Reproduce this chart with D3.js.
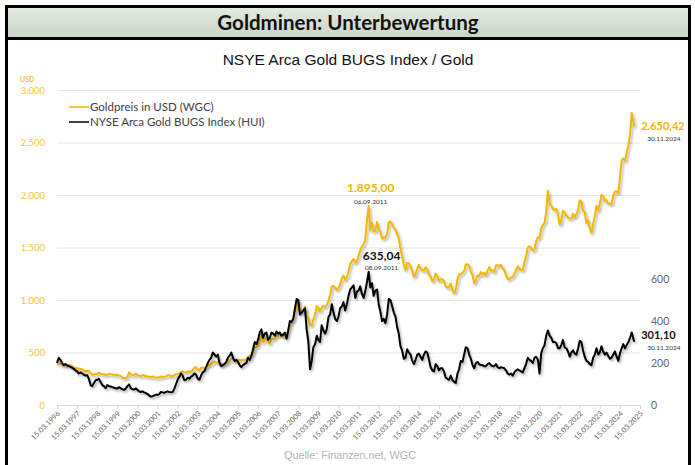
<!DOCTYPE html>
<html>
<head>
<meta charset="utf-8">
<script src="https://cdn.jsdelivr.net/npm/d3@7"></script>
<style>
  body { margin: 0; background: #fff; }
  svg { display: block; }
</style>
</head>
<body>
<div id="chart"></div>
<script>
// monthly values, first point 15.03.1996, last point 30.11.2024
const startDate = new Date(1996, 2, 15)
const endDate = new Date(2025, 2, 15)

const gold = [
  396, 393, 392, 385, 383, 387, 383, 381, 378, 369,
  355, 346, 352, 344, 344, 341, 324, 324, 323, 325, 306, 289,
  289, 297, 296, 308, 299, 292, 293, 284, 289, 296, 294, 291,
  287, 287, 286, 282, 277, 261, 256, 257, 265, 311, 293, 283,
  284, 300, 286, 280, 275, 285, 282, 274, 273, 270, 266, 272,
  265, 262, 263, 261, 272, 270, 268, 273, 283, 283, 276, 276,
  282, 295, 294, 302, 314, 321, 313, 310, 319, 317, 319, 333,
  357, 359, 340, 328, 355, 356, 351, 360, 379, 379, 389, 407,
  414, 405, 406, 403, 383, 392, 398, 400, 406, 420, 439, 442,
  424, 423, 434, 429, 422, 431, 424, 438, 456, 470, 476, 510,
  549, 555, 557, 610, 676, 596, 633, 632, 598, 586, 628, 629,
  631, 665, 655, 679, 667, 655, 665, 665, 712, 754, 806, 803,
  889, 922, 990, 909, 888, 890, 939, 839, 829, 760, 760, 816,
  858, 943, 924, 890, 928, 946, 934, 949, 996, 1043, 1127, 1134,
  1118, 1095, 1113, 1148, 1205, 1232, 1193, 1215, 1271, 1342, 1370, 1391,
  1356, 1372, 1424, 1473, 1510, 1529, 1572, 1756, 1895, 1666, 1739, 1652,
  1656, 1742, 1673, 1650, 1585, 1596, 1594, 1630, 1744, 1747, 1721, 1688,
  1670, 1627, 1593, 1487, 1414, 1343, 1286, 1352, 1349, 1316, 1275, 1222,
  1244, 1300, 1336, 1299, 1287, 1279, 1311, 1296, 1239, 1222, 1176, 1200,
  1251, 1227, 1179, 1198, 1199, 1181, 1129, 1118, 1125, 1157, 1087, 1068,
  1097, 1200, 1245, 1242, 1260, 1276, 1337, 1341, 1326, 1267, 1238, 1157,
  1192, 1234, 1231, 1266, 1246, 1260, 1236, 1283, 1315, 1280, 1283, 1265,
  1331, 1331, 1325, 1335, 1303, 1282, 1238, 1201, 1198, 1215, 1221, 1250,
  1291, 1320, 1300, 1286, 1284, 1359, 1413, 1500, 1511, 1495, 1471, 1479,
  1560, 1597, 1592, 1683, 1715, 1732, 1846, 2040, 1921, 1900, 1866, 1858,
  1867, 1808, 1718, 1760, 1850, 1834, 1807, 1785, 1776, 1777, 1821, 1790,
  1817, 1856, 1948, 1937, 1849, 1837, 1733, 1765, 1681, 1640, 1726, 1798,
  1898, 1854, 1912, 1999, 1992, 1942, 1951, 1918, 1916, 1915, 1993, 2034,
  2033, 2023, 2158, 2330, 2350, 2326, 2398, 2470, 2571, 2780, 2650
]

const hui = [
  200, 225, 215, 200, 190, 195, 188, 185, 182, 178,
  172, 165, 160, 150, 155, 150, 145, 140, 142, 125, 95, 90,
  105, 118, 120, 125, 110, 95, 90, 80, 95, 90, 88, 85,
  82, 80, 78, 85, 80, 75, 72, 78, 90, 98, 80, 75,
  74, 80, 72, 65, 62, 65, 60, 57, 52, 45, 40, 42,
  45, 50, 48, 52, 62, 60, 58, 62, 65, 62, 60, 62,
  78, 100, 120, 135, 150, 140, 118, 120, 130, 125, 135, 140,
  150, 145, 125, 120, 140, 155, 160, 180, 200, 215, 225, 250,
  240, 230, 240, 200, 185, 190, 195, 205, 225, 235, 250, 225,
  210, 215, 205, 190, 180, 190, 195, 200, 225, 215, 235, 265,
  300, 290, 310, 345, 360, 320, 340, 345, 310, 320, 345, 340,
  330, 350, 340, 345, 330, 335, 345, 315, 355, 400, 395, 410,
  460, 505, 500, 430, 440, 450, 460, 360, 300, 170, 210, 275,
  290, 330, 310, 300, 380, 355, 340, 360, 420, 430, 480, 440,
  410, 400, 420, 460, 470, 490, 450, 480, 520, 550, 560, 570,
  510, 540, 545, 565, 530, 510, 540, 585, 635, 560, 580, 520,
  545, 550, 480, 445, 400, 410, 390, 430, 505, 500, 470, 440,
  420, 370, 340, 280, 260, 220, 225, 265, 250, 240, 210, 195,
  215, 240, 245, 230, 215, 240, 255, 250, 215, 180, 165, 160,
  195, 185, 165, 175, 175, 160, 130, 125, 120, 140, 120, 110,
  105, 150, 170, 210, 205, 240, 275, 270, 240, 220, 190, 175,
  200, 205, 195, 190, 190, 185, 185, 195, 200, 190, 185, 185,
  195, 180, 175, 180, 178, 175, 165, 150, 145, 150, 140, 155,
  165, 170, 165, 160, 155, 175, 195, 225, 215, 210, 200, 225,
  230, 215, 150, 245, 270, 285, 330, 355, 330, 320, 300, 300,
  295, 270, 270, 285, 310, 275, 270, 255, 230, 250, 260, 245,
  240, 270, 305, 300, 260, 230, 210, 205, 195, 190, 225, 240,
  270, 240, 250, 280, 255, 240, 250, 235, 220, 225, 240, 255,
  230, 210, 245, 270, 290, 270, 285, 300, 320, 345, 301
]

const leftTicks = [0, 500, 1000, 1500, 2000, 2500, 3000]
const rightTicks = [0, 200, 400, 600]
const legendLabels = ["Goldpreis in USD (WGC)", "NYSE Arca Gold BUGS Index (HUI)"]
const annotations = [
  {series: "gold", value: "1.895,00", date: "06.09.2011", at: 186},
  {series: "hui", value: "635,04", date: "08.09.2011", at: 186},
  {series: "gold", value: "2.650,42", date: "30.11.2024", at: 344},
  {series: "hui", value: "301,10", date: "30.11.2024", at: 344}
]

const goldColor = "#f2b705"
const W = 695, H = 465

const de = d3.formatLocale({decimal: ",", thousands: ".", grouping: [3], currency: ["", "€"]})
const fmt = de.format(",")

const svg = d3.select("#chart").append("svg")
  .attr("width", W).attr("height", H)
  .style("font-family", "Lato, 'Open Sans', sans-serif")

const defs = svg.append("defs")
const grad = defs.append("linearGradient").attr("id", "band").attr("x1", 0).attr("y1", 0).attr("x2", 0).attr("y2", 1)
grad.append("stop").attr("offset", "0%").attr("stop-color", "#e4ebe2")
grad.append("stop").attr("offset", "100%").attr("stop-color", "#c9d4c6")
const shadow = defs.append("filter").attr("id", "shadow").attr("x", "-5%").attr("y", "-5%").attr("width", "110%").attr("height", "110%")
shadow.append("feDropShadow").attr("dx", 1.5).attr("dy", 2).attr("stdDeviation", 1)
  .attr("flood-color", "#000").attr("flood-opacity", 0.3)

// frame
svg.append("rect").attr("x", 6.5).attr("y", 6.5).attr("width", 683).attr("height", 32)
  .attr("fill", "url(#band)").attr("stroke", "#000").attr("stroke-width", 3)
svg.append("line").attr("x1", 6.5).attr("x2", 6.5).attr("y1", 6).attr("y2", H).attr("stroke", "#000").attr("stroke-width", 3)
svg.append("line").attr("x1", 689.5).attr("x2", 689.5).attr("y1", 6).attr("y2", H).attr("stroke", "#000").attr("stroke-width", 3)

svg.append("text").attr("x", 348).attr("y", 29.5).attr("text-anchor", "middle")
  .attr("font-size", 20.5).attr("font-weight", "bold").attr("fill", "#111")
  .text("Goldminen: Unterbewertung")

svg.append("text").attr("x", 348).attr("y", 65).attr("text-anchor", "middle")
  .style("font-family", "'Liberation Sans', Arial, sans-serif")
  .attr("font-size", 15.5).attr("fill", "#111")
  .text("NSYE Arca Gold BUGS Index / Gold")

svg.append("text").attr("x", 350).attr("y", 459).attr("text-anchor", "middle")
  .style("font-family", "'Liberation Sans', Arial, sans-serif")
  .attr("font-size", 10.8).attr("fill", "#b3b3b3")
  .text("Quelle: Finanzen.net, WGC")

// scales
const x = d3.scaleTime().domain([startDate, endDate]).range([57, 640])
const yL = d3.scaleLinear().domain([0, 3000]).range([405, 90])
const yR = d3.scaleLinear().domain([0, 1500]).range([405, 90])

const dates = gold.map((d, i) => i === gold.length - 1 ? new Date(2024, 10, 30) : d3.timeMonth.offset(startDate, i))

// gridlines + left axis
const gl = svg.append("g").attr("transform", "translate(57,0)")
  .call(d3.axisLeft(yL).tickValues(leftTicks).tickSize(-583).tickFormat(fmt).tickPadding(12))
gl.select(".domain").remove()
gl.selectAll(".tick line").attr("stroke", "#e6e6e6").attr("stroke-width", 1)
  .filter(d => d === 0).remove()
gl.selectAll(".tick text").attr("fill", "#f5c437").attr("font-size", 9.5)
  .style("font-family", "Lato, sans-serif")
svg.append("text").attr("x", 20).attr("y", 82).attr("fill", "#f5c437")
  .attr("font-size", 7).attr("font-weight", "bold").text("USD")

// right axis
const gr = svg.append("g").attr("transform", "translate(649,0)")
  .call(d3.axisRight(yR).tickValues(rightTicks).tickSize(0).tickPadding(2))
gr.select(".domain").remove()
gr.selectAll(".tick text").attr("fill", "#666").attr("font-size", 10.5)
  .style("font-family", "Lato, sans-serif")

// x axis
const years = d3.range(1996, 2026).map(y => new Date(y, 2, 15))
const gx = svg.append("g").attr("transform", "translate(0,405)")
  .call(d3.axisBottom(x).tickValues(years).tickSize(4).tickFormat(d3.timeFormat("%d.%m.%Y")))
gx.select(".domain").attr("stroke", "#d9d9d9")
gx.selectAll(".tick line").attr("stroke", "#d9d9d9")
gx.selectAll(".tick text").attr("fill", "#666").attr("font-size", 7.3)
  .style("font-family", "Lato, sans-serif")
  .attr("text-anchor", "end").attr("dy", 0).attr("y", 0)
  .attr("transform", "translate(3,9) rotate(-45)")

// lines
const goldLine = d3.line().x((d, i) => x(dates[i])).y(d => yL(d))
const huiLine = d3.line().x((d, i) => x(dates[i])).y(d => yR(d))
svg.append("path").datum(gold).attr("d", goldLine).attr("fill", "none")
  .attr("stroke", goldColor).attr("stroke-width", 2).attr("stroke-linejoin", "round")
  .attr("filter", "url(#shadow)")
svg.append("path").datum(hui).attr("d", huiLine).attr("fill", "none")
  .attr("stroke", "#000").attr("stroke-width", 2).attr("stroke-linejoin", "round")
  .attr("filter", "url(#shadow)")

// legend
legendLabels.forEach((t, i) => {
  const ly = 107 + i * 15
  svg.append("line").attr("x1", 69).attr("x2", 89).attr("y1", ly).attr("y2", ly)
    .attr("stroke", i === 0 ? goldColor : "#000").attr("stroke-width", 1.5)
  svg.append("text").attr("x", 90).attr("y", ly + 4).attr("font-size", 11.5)
    .attr("fill", "#404040").text(t)
})

// annotations
annotations.forEach(a => {
  const isGold = a.series === "gold"
  const px = x(dates[a.at])
  const py = isGold ? yL(gold[a.at]) : yR(hui[a.at])
  const end = a.at === gold.length - 1
  let vx, vy, dx, dy, anchor, fs
  if (end) {
    anchor = "start"; fs = 11
    vx = px + 7; vy = isGold ? py + 3 : py - 3
    dx = px + 13; dy = vy + 11
  } else {
    anchor = "middle"; fs = 12
    vx = isGold ? px + 2 : px + 13
    vy = isGold ? py - 14 : py - 12
    dx = vx; dy = py - (isGold ? 2 : 1.5)
  }
  svg.append("text").attr("x", vx).attr("y", vy).attr("text-anchor", anchor)
    .attr("font-size", fs).attr("font-weight", "bold")
    .attr("fill", isGold ? goldColor : "#111").text(a.value)
  svg.append("text").attr("x", dx).attr("y", dy).attr("text-anchor", anchor)
    .attr("font-size", 6.5).attr("fill", "#333").text(a.date)
})
</script>
</body>
</html>
